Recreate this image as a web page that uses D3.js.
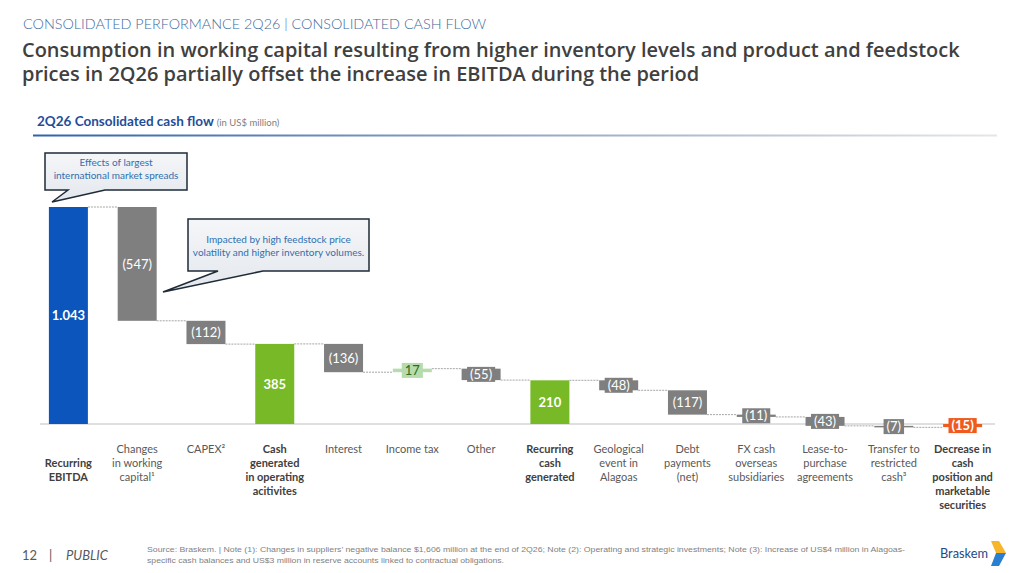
<!DOCTYPE html>
<html>
<head>
<meta charset="utf-8">
<script src="https://cdn.jsdelivr.net/npm/d3@7"></script>
<style>
  body { margin: 0; background: #fff; }
  svg { display: block; }
</style>
</head>
<body>
<svg id="chart"></svg>
<script>
const svg_width = 1019;
const svg_height = 573;

// chart data
var categories = [
  ["", "Recurring", "EBITDA"],
  ["Changes", "in working", "capital\u00b9"],
  ["CAPEX\u00b2"],
  ["Cash", "generated", "in operating", "acitivites"],
  ["Interest"],
  ["Income tax"],
  ["Other"],
  ["Recurring", "cash", "generated"],
  ["Geological", "event in", "Alagoas"],
  ["Debt", "payments", "(net)"],
  ["FX cash", "overseas", "subsidiaries"],
  ["Lease-to-", "purchase", "agreements"],
  ["Transfer to", "restricted", "cash\u00b3"],
  ["Decrease in", "cash", "position and", "marketable", "securities"]
];
var values = [1043, -547, -112, 385, -136, 17, -55, 210, -48, -117, -11, -43, -7, -15];
var value_labels = ["1.043", "(547)", "(112)", "385", "(136)", "17", "(55)", "210", "(48)", "(117)", "(11)", "(43)", "(7)", "(15)"];
// "total" bars start at zero, "delta" bars float
var bar_types = ["total", "delta", "delta", "total", "delta", "delta", "delta", "total", "delta", "delta", "delta", "delta", "delta", "total"];

var title_lines = [
  "Consumption in working capital resulting from higher inventory levels and product and feedstock",
  "prices in 2Q26 partially offset the increase in EBITDA during the period"
];

var notes = [
  { text: ["Effects of largest", "international market spreads"], bar: 0 },
  { text: ["Impacted by high feedstock price", "volatility and higher inventory volumes."], bar: 1 }
];

var source_lines = [
  "Source: Braskem. | Note (1): Changes in suppliers\u2019 negative balance $1,606 million at the end of 2Q26; Note (2): Operating and strategic investments; Note (3): Increase of US$4 million in Alagoas-",
  "specific cash balances and US$3 million in reserve accounts linked to contractual obligations."
];

var svg = d3.select("svg#chart")
    .attr("width", svg_width)
    .attr("height", svg_height)
    .style("font-family", "Lato, 'Open Sans', sans-serif");

// shrink/grow a text node so it spans a given width
function fit_width(sel, w) {
  var node = sel.node();
  var fs = parseFloat(sel.attr("font-size"));
  var len = node.getComputedTextLength();
  if (len > 0) sel.attr("font-size", (fs * w / len).toFixed(2));
}

// ---- header ----
var header = svg.append("text")
    .attr("x", 23).attr("y", 29)
    .attr("font-family", "Lato").attr("font-weight", 300)
    .attr("font-size", 17)
    .attr("fill", "#3d6b9c")
    .text("CONSOLIDATED PERFORMANCE 2Q26 | CONSOLIDATED CASH FLOW");
fit_width(header, 463);

// size the title on its first line, then draw both lines in one text
var probe = svg.append("text")
    .attr("font-family", "'Open Sans'").attr("font-weight", 600)
    .attr("font-size", 21)
    .text(title_lines[0]);
fit_width(probe, 938);
var title_fs = probe.attr("font-size");
probe.remove();

var title = svg.append("text")
    .attr("font-family", "'Open Sans'").attr("font-weight", 600)
    .attr("font-size", title_fs)
    .attr("fill", "#404040");
title_lines.forEach(function(line, k) {
  title.append("tspan")
      .attr("x", 22).attr("y", 57 + k * 24)
      .text(line);
});

var sub = svg.append("text")
    .attr("x", 37).attr("y", 126)
    .attr("font-weight", 700)
    .attr("font-size", 13.5)
    .attr("fill", "#1f4e9a");
sub.append("tspan").text("2Q26 Consolidated cash flow ");
sub.append("tspan")
    .attr("font-weight", 400).attr("font-size", 9.5).attr("fill", "#808080")
    .text("(in US$ million)");

var defs = svg.append("defs");
var lg = defs.append("linearGradient").attr("id", "rule");
lg.append("stop").attr("offset", "0%").attr("stop-color", "#2f62b0");
lg.append("stop").attr("offset", "45%").attr("stop-color", "#8aa0c0");
lg.append("stop").attr("offset", "100%").attr("stop-color", "#e6e6e6");
svg.append("rect")
    .attr("x", 33).attr("y", 134.5).attr("width", 964).attr("height", 2)
    .attr("fill", "url(#rule)");

var cg = defs.append("linearGradient").attr("id", "callout")
    .attr("x1", 0).attr("y1", 0).attr("x2", 0).attr("y2", 1);
cg.append("stop").attr("offset", "0%").attr("stop-color", "#f5f6f8");
cg.append("stop").attr("offset", "100%").attr("stop-color", "#e3e7ed");

// ---- waterfall geometry ----
var bars = [];
var cum = 0;
values.forEach(function(v, i) {
  var start, end;
  if (bar_types[i] === "total") {
    start = 0; end = v;
  } else {
    start = cum; end = cum + v;
  }
  cum = end;
  bars.push({ i: i, start: start, end: end, value: v, label: value_labels[i], type: bar_types[i] });
});

var x = d3.scaleBand()
    .domain(d3.range(values.length))
    .range([34, 997])
    .paddingInner(0.433)
    .paddingOuter(0.2165);

var y = d3.scaleLinear()
    .domain([0, 1043])
    .range([424, 207]);

function bar_color(d) {
  if (d.i === 0) return "#0b55bd";
  if (d.i === values.length - 1) return "#ef5b1f";
  if (d.type === "total") return "#78b928";
  if (d.value > 0) return "#b6dcae";
  return "#7f7f7f";
}

var chart = svg.append("g");

// baseline
chart.append("line")
    .attr("x1", 40).attr("x2", 995)
    .attr("y1", y(0)).attr("y2", y(0))
    .attr("stroke", "#c0c0c0").attr("stroke-width", 1);

// connectors
chart.selectAll("line.conn")
    .data(bars.slice(0, -1))
    .enter()
    .append("line")
    .attr("class", "conn")
    .attr("x1", d => x(d.i) + x.bandwidth())
    .attr("x2", d => x(d.i + 1))
    .attr("y1", d => y(d.end))
    .attr("y2", d => y(d.end))
    .attr("stroke", "#a6a6a6")
    .attr("stroke-width", 1)
    .attr("stroke-dasharray", "2,1");

chart.selectAll("rect.bar")
    .data(bars)
    .enter()
    .append("rect")
    .attr("class", "bar")
    .attr("x", d => x(d.i))
    .attr("y", d => y(Math.max(d.start, d.end)))
    .attr("width", x.bandwidth())
    .attr("height", d => Math.max(1.5, Math.abs(y(d.start) - y(d.end))))
    .attr("fill", bar_color);

// value labels
var lab = chart.selectAll("g.vlab")
    .data(bars)
    .enter()
    .append("g")
    .attr("class", "vlab")
    .attr("transform", d => "translate(" + (x(d.i) + x.bandwidth() / 2) + "," + ((y(d.start) + y(d.end)) / 2) + ")");

lab.append("text")
    .attr("text-anchor", "middle")
    .attr("dy", "0.36em")
    .attr("font-size", 13)
    .attr("font-weight", d => d.type === "total" ? 700 : 400)
    .attr("fill", d => (d.type === "delta" && d.value > 0) ? "#2f6b25" : "#ffffff")
    .text(d => d.label);

// small bars get a label box in the bar colour
lab.each(function(d) {
  var h = Math.abs(y(d.start) - y(d.end));
  if (h >= 16) return;
  var g = d3.select(this);
  var w = g.select("text").node().getComputedTextLength() + 6;
  g.insert("rect", "text")
      .attr("x", -w / 2).attr("y", -7.5)
      .attr("width", w).attr("height", 15)
      .attr("fill", bar_color(d));
});

// category labels
chart.selectAll("text.cat")
    .data(bars)
    .enter()
    .append("text")
    .attr("class", "cat")
    .attr("text-anchor", "middle")
    .attr("font-size", 11)
    .attr("font-weight", d => d.type === "total" ? 700 : 400)
    .attr("fill", d => d.type === "total" ? "#404040" : "#595959")
    .each(function(d) {
      var t = d3.select(this);
      categories[d.i].forEach(function(line, k) {
        t.append("tspan")
            .attr("x", x(d.i) + x.bandwidth() / 2)
            .attr("y", 453 + k * 14)
            .text(line);
      });
    });

// ---- callouts ----
var callouts = [
  { box: [45, 153, 142, 37], tail: [[68, 190], [52, 202], [105, 190]], lines: [166, 179] },
  { box: [188, 219, 181, 52], tail: [[218, 271], [163, 292], [263, 271]], lines: [243, 256] }
];
callouts.forEach(function(c, k) {
  var b = c.box;
  var p = [[b[0], b[1]], [b[0] + b[2], b[1]], [b[0] + b[2], b[1] + b[3]],
           c.tail[2], c.tail[1], c.tail[0], [b[0], b[1] + b[3]]];
  svg.append("path")
      .attr("d", "M" + p.map(q => q.join(",")).join("L") + "Z")
      .attr("fill", "url(#callout)")
      .attr("stroke", "#1e2b38")
      .attr("stroke-width", 1.5)
      .attr("stroke-linejoin", "miter");
  notes[k].text.forEach(function(line, j) {
    svg.append("text")
        .attr("x", b[0] + b[2] / 2)
        .attr("y", c.lines[j])
        .attr("text-anchor", "middle")
        .attr("font-size", 10)
        .attr("fill", "#2e70b0")
        .text(line);
  });
});

// ---- footer ----
var foot = svg.append("text")
    .attr("x", 22).attr("y", 560)
    .attr("font-size", 13)
    .attr("fill", "#595959");
foot.append("tspan").text("12");
foot.append("tspan").attr("x", 49).text("|");
foot.append("tspan").attr("x", 66).attr("font-style", "italic").text("PUBLIC");

source_lines.forEach(function(line, k) {
  svg.append("text")
      .attr("x", 147).attr("y", 552 + k * 11)
      .attr("font-family", "'Liberation Sans Narrow', 'Liberation Sans', sans-serif")
      .attr("font-size", 8)
      .attr("fill", "#7f7f7f")
      .attr("textLength", k === 0 ? 758 : 357)
      .attr("lengthAdjust", "spacingAndGlyphs")
      .text(line);
});

// logo
var logo = svg.append("text")
    .attr("x", 940).attr("y", 558)
    .attr("font-size", 15)
    .attr("font-weight", 400)
    .attr("fill", "#1f4a8a")
    .text("Braskem");
fit_width(logo, 48);
svg.append("path")
    .attr("d", "M991,541 L999,541 L1006,553 L996,553 Z")
    .attr("fill", "#f7b52a");
svg.append("path")
    .attr("d", "M996,553 L1006,553 L999,566 L991,566 Z")
    .attr("fill", "#2a7fd0");
</script>
</body>
</html>
